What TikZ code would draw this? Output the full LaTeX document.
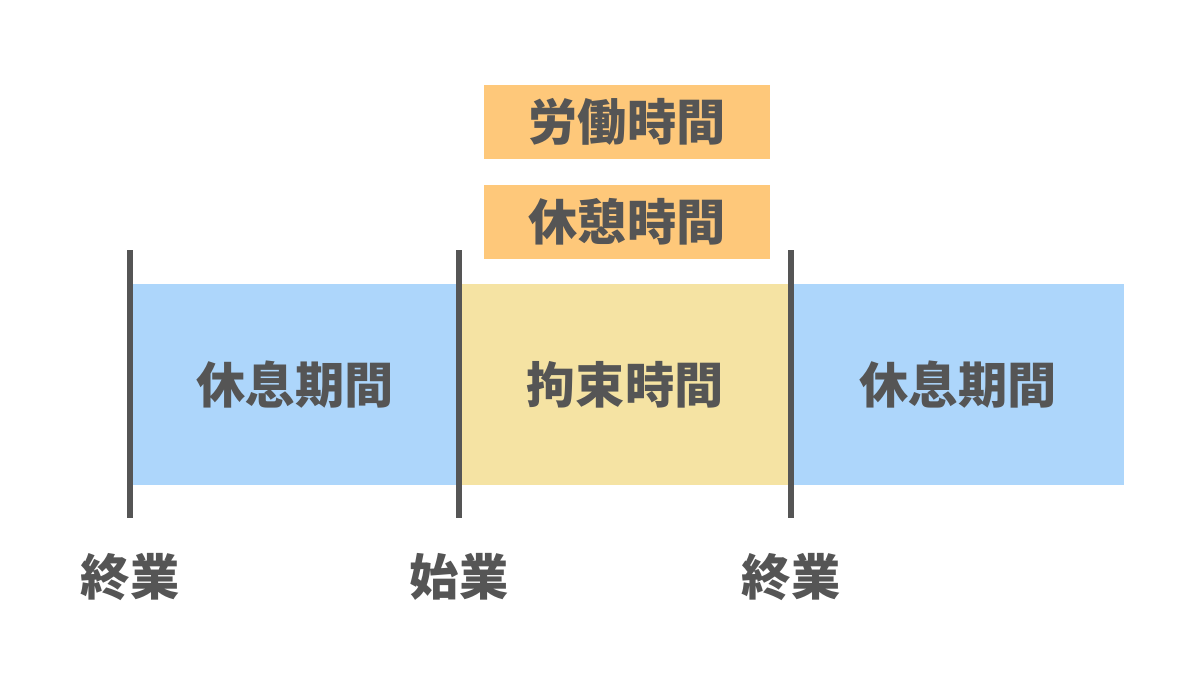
\documentclass[tikz,border=0pt]{standalone}
\usepackage{fontspec}
\newfontfamily\jp{Noto Sans CJK JP}
\usepackage{tikz}
\definecolor{restblue}{HTML}{ADD6FB}
\definecolor{bindyellow}{HTML}{F5E3A3}
\definecolor{workorange}{HTML}{FEC87A}
\definecolor{ink}{HTML}{555555}
\tikzset{label/.style={text=ink, font=\jp\bfseries\fontsize{14}{16}\selectfont}}
\tikzset{bar/.style={draw=ink, line width=1.5pt}}
\tikzset{workbox/.style={fill=workorange, minimum width=2.86cm, minimum height=0.74cm, label}}

\begin{document}
\begin{tikzpicture}[x=0.01cm, y=-0.01cm]
    \useasboundingbox (0,0) rectangle (1200,672);
    % periods
    \fill [restblue] (133,284) rectangle (460,485);
    \fill [bindyellow] (460,284) rectangle (790,485);
    \fill [restblue] (790,284) rectangle (1124,485);
    \node (restA) [label] at (295,385) {休息期間};
    \node (bind) [label] at (625,385) {拘束時間};
    \node (restB) [label] at (958,385) {休息期間};
    % work and break
    \node (work) [workbox] at (627,122) {労働時間};
    \node (break) [workbox] at (627,222) {休憩時間};
    % borders
    \draw [bar] (130,250) -- (130,518);
    \draw [bar] (459,250) -- (459,518);
    \draw [bar] (791,250) -- (791,518);
    \node (endA) [label] at (130,577) {終業};
    \node (start) [label] at (459,577) {始業};
    \node (endB) [label] at (791,577) {終業};
\end{tikzpicture}
\end{document}
